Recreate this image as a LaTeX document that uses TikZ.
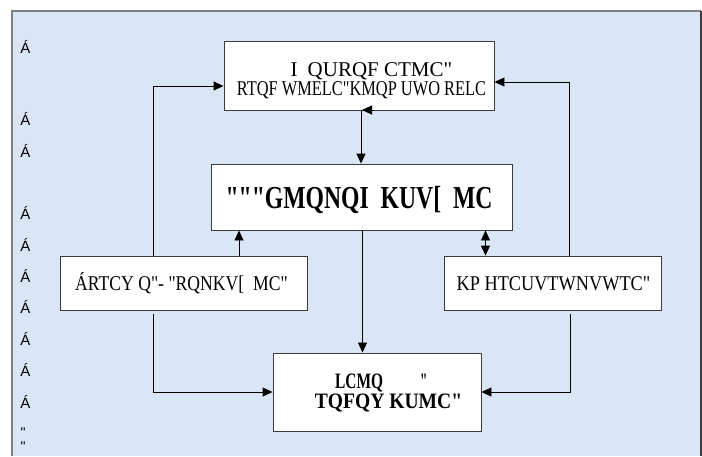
\documentclass[tikz,border=0pt]{standalone}
\usepackage{graphicx}
\usepackage{fontspec}
\setmainfont{Liberation Serif}[Ligatures=TeXOff]
\newfontfamily\marginfont{Liberation Sans}[Ligatures=TeXOff]
\usetikzlibrary{arrows.meta}
\definecolor{bgblue}{RGB}{218,230,245}
\definecolor{framegray}{RGB}{128,128,128}
\definecolor{boxgray}{RGB}{60,60,60}
\newcommand{\sx}[2]{\scalebox{#1}[1]{#2}}
\newcommand{\nodepth}[1]{\raisebox{0pt}[\height][0pt]{#1}}
\begin{document}
\begin{tikzpicture}[x=1pt,y=-1pt,
  box/.style={draw=boxgray, fill=white, line width=0.9pt, inner sep=0pt},
  lbl/.style={inner sep=0pt, anchor=base, font=\fontsize{21pt}{21pt}\selectfont},
  blbl/.style={lbl, font=\fontsize{22pt}{22pt}\selectfont\bfseries},
  side/.style={inner sep=0pt, font=\marginfont\fontsize{15pt}{15pt}\selectfont},
  sideq/.style={inner sep=0pt, anchor=base, font=\marginfont\fontsize{14pt}{14pt}\selectfont},
  arr/.style={draw=black, line width=0.9pt, -{Triangle[length=10pt,width=9pt]}},
  arrb/.style={draw=black, line width=0.9pt, {Triangle[length=10pt,width=9pt]}-{Triangle[length=10pt,width=9pt]}},
]
\useasboundingbox (0,0) rectangle (702,456);
\fill[bgblue] (12,11) rectangle (701,456);
\draw[framegray, line width=1.5pt] (12,456) -- (12,11) -- (701,11);
\draw[boxgray, line width=2pt] (701,11) -- (701,456);

% boxes
\node[box, minimum width=270pt, minimum height=69pt] (top) at (359,75.5) {};
\node[box, minimum width=301pt, minimum height=66pt] (mid) at (361.5,197) {};
\node[box, minimum width=247pt, minimum height=54pt] (left) at (183.5,283) {};
\node[box, minimum width=217pt, minimum height=54pt] (right) at (552.5,283) {};
\node[box, minimum width=208pt, minimum height=78pt] (bot) at (377,392) {};

% texts
\node[lbl] (top1) at (371.5,76.5) {\nodepth{I\hspace{10pt}QURQF CTMC"}};
\node[lbl] (top2) at (361.5,95.5) {\sx{0.78}{RTQF WMELC"KMQP UWO RELC}};
\node[lbl, font=\fontsize{32pt}{32pt}\selectfont\bfseries] (midt) at (359,208) {\sx{0.74}{"""GMQNQI\ \ KUV[\ \ MC}};
\node[lbl] (leftt) at (181.5,290) {\sx{0.84}{ÁRTCY Q"- "RQNKV[\ \ MC"}};
\node[lbl] (rightt) at (553.5,290) {\sx{0.87}{KP HTCUVTWNVWTC"}};
\node[blbl, anchor=base west] (bot1) at (335,388.5) {\nodepth{\sx{0.7}{LCMQ}\hspace{37pt}\sx{0.6}{"}}};
\node[blbl] (bot2) at (388.5,408.5) {\sx{0.89}{TQFQY KUMC"}};

% margin characters
\foreach \yy [count=\i] in {47,119,151,213,245,276,307,339,370,402}
  \node[side] (m\i) at (25.5,\yy) {Á};
\node[sideq] (q1) at (23,437) {"};
\node[sideq] (q2) at (23,451) {"};

% helper coordinates
\coordinate (lx) at (153.5,86);
\coordinate (rx) at (569,82);
\coordinate (c1) at (361,0);
\coordinate (c2) at (239,0);
\coordinate (c3) at (362.5,0);
\coordinate (c4) at (485.5,0);
\coordinate (ld) at (153.5,314);
\coordinate (rd) at (570,314);
\coordinate (ly) at (0,392);
\coordinate (hA) at (374,110);
\coordinate (hB) at (362,110);

% connectors
\draw[arr] (left.north -| lx) |- (top.west |- lx);
\draw[arr] (right.north -| rx) |- (top.east |- rx);
\draw[arr] (top.south -| c1) -- (mid.north -| c1);
\draw[arr] (hA) -- (hB);
\draw[arr] (left.north -| c2) -- (mid.south -| c2);
\draw[arr] (mid.south -| c3) -- (bot.north -| c3);
\draw[arrb] (mid.south -| c4) -- (right.north -| c4);
\draw[arr] (ld) |- (bot.west |- ly);
\draw[arr] (rd) |- (bot.east |- ly);
\end{tikzpicture}
\end{document}
